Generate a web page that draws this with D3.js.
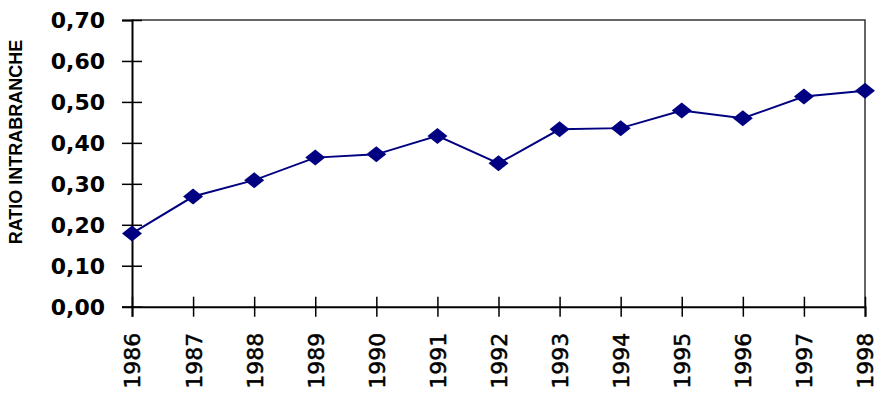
<!DOCTYPE html>
<html>
<head>
<meta charset="utf-8">
<script src="https://cdn.jsdelivr.net/npm/d3@7"></script>
<style>
  body { margin: 0; background: #fff; }
  svg { display: block; }
  .ylab text { font-family: "DejaVu Sans", Verdana, sans-serif; font-weight: bold; font-size: 22px; }
  .xlab text { font-family: "DejaVu Sans", Verdana, sans-serif; font-size: 22px; stroke: #000; stroke-width: 0.5px; }
  .title { font-family: "Liberation Sans", Arial, sans-serif; font-weight: bold; font-size: 18px; }
</style>
</head>
<body>
<svg id="chart" width="877" height="395"></svg>
<script>
var years = ["1986", "1987", "1988", "1989", "1990", "1991", "1992",
             "1993", "1994", "1995", "1996", "1997", "1998"];
var ratio = [0.179, 0.269, 0.309, 0.364, 0.372, 0.417, 0.350,
             0.433, 0.436, 0.479, 0.460, 0.513, 0.527];
var yTicks = [0, 0.1, 0.2, 0.3, 0.4, 0.5, 0.6, 0.7];

var plotL = 132, plotR = 865, plotT = 20, plotB = 306.7;

var svg = d3.select("#chart");

var x = d3.scalePoint().domain(years).range([plotL, plotR]);
var y = d3.scaleLinear().domain([0, 0.7]).range([plotB, plotT]);
var fmt = function (d) { return d3.format(".2f")(d).replace(".", ","); };

// frame (top and right)
svg.append("path")
  .attr("d", "M" + plotL + "," + plotT + "H" + plotR + "V" + plotB)
  .attr("fill", "none")
  .attr("stroke", "#333")
  .attr("stroke-width", 1.5);

// y axis
var gy = svg.append("g")
  .attr("class", "ylab")
  .attr("transform", "translate(" + plotL + ",0)")
  .call(d3.axisLeft(y).tickValues(yTicks).tickFormat(fmt).tickSize(10).tickPadding(17));
gy.select(".domain").attr("stroke", "#000").attr("stroke-width", 2);
gy.selectAll(".tick line").attr("x1", -10).attr("x2", 10).attr("stroke", "#000").attr("stroke-width", 1.5);
gy.selectAll(".tick text").attr("fill", "#000").attr("dy", "0.36em");

// x axis
var gx = svg.append("g")
  .attr("class", "xlab")
  .attr("transform", "translate(0," + plotB + ")")
  .call(d3.axisBottom(x).tickSize(10));
gx.select(".domain").attr("stroke", "#000").attr("stroke-width", 2);
gx.selectAll(".tick line").attr("y1", -10).attr("y2", 10).attr("stroke", "#000").attr("stroke-width", 1.5);
gx.selectAll(".tick text")
  .attr("fill", "#000")
  .attr("text-anchor", "end")
  .attr("transform", "rotate(-90)")
  .attr("x", -26)
  .attr("y", 0)
  .attr("dy", "0.36em");

// axis title
svg.append("text")
  .attr("class", "title")
  .attr("text-anchor", "middle")
  .attr("transform", "translate(22,142) rotate(-90)")
  .text("RATIO INTRABRANCHE");

// line
var line = d3.line()
  .x(function (d, i) { return x(years[i]); })
  .y(function (d) { return y(d); });

svg.append("path")
  .datum(ratio)
  .attr("d", line)
  .attr("fill", "none")
  .attr("stroke", "#000080")
  .attr("stroke-width", 2);

// diamond markers
svg.append("g")
  .selectAll("path")
  .data(ratio)
  .enter()
  .append("path")
  .attr("d", "M0,-8L10,0L0,8L-10,0Z")
  .attr("transform", function (d, i) {
    return "translate(" + x(years[i]) + "," + y(d) + ")";
  })
  .attr("fill", "#000080");
</script>
</body>
</html>
